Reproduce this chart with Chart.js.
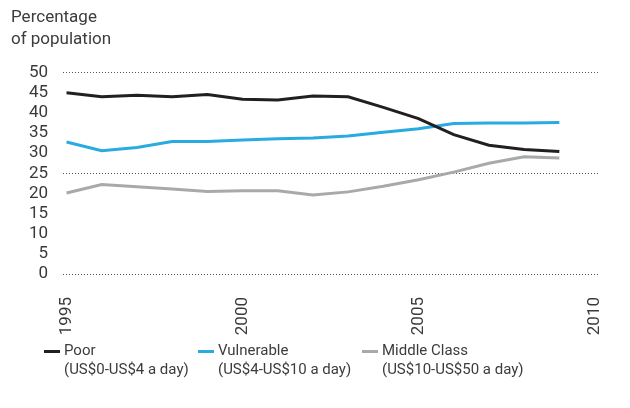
<!DOCTYPE html>
<html lang="en">
<head>
	<meta charset="utf-8">
	<script src="https://cdn.jsdelivr.net/npm/chart.js@4/dist/chart.umd.min.js"></script>
	<title>Percentage of population</title>
<style>
body { margin: 0; background: #fff; font-family: Roboto, "DejaVu Sans", sans-serif; }
#wrap { position: relative; width: 630px; height: 408px; }
#title { position: absolute; left: 11px; top: 5px; font-size: 17px; line-height: 22px; color: #3c3c3c; }
#legend { position: absolute; left: 0; top: 341px; width: 630px; }
.item { position: absolute; top: 0; font-size: 15px; line-height: 19px; color: #3c3c3c; white-space: nowrap; }
.item .mark { position: absolute; left: 0; top: 9px; width: 16px; height: 3px; }
.item .txt { position: absolute; left: 20px; top: 0; }
</style>
</head>
<body>
<div id="wrap">
	<canvas id="myChart" width="630" height="408"></canvas>
	<div id="title">Percentage<br>of population</div>
	<div id="legend"></div>
</div>
<script>
const years = [1995, 1996, 1997, 1998, 1999, 2000, 2001, 2002, 2003, 2004, 2005, 2006, 2007, 2008, 2009];
const poor = [45.0, 44.0, 44.4, 44.0, 44.6, 43.4, 43.2, 44.2, 44.0, 41.4, 38.6, 34.6, 32.0, 30.9, 30.4];
const vulnerable = [32.8, 30.6, 31.4, 32.9, 32.9, 33.3, 33.6, 33.8, 34.3, 35.2, 36.1, 37.4, 37.5, 37.5, 37.6];
const middleClass = [20.1, 22.2, 21.7, 21.1, 20.5, 20.7, 20.7, 19.6, 20.4, 21.8, 23.4, 25.3, 27.5, 29.1, 28.8];
const xTicks = [1995, 2000, 2005, 2010];
const seriesNames = ['Poor', 'Vulnerable', 'Middle Class'];
const seriesRanges = ['(US$0-US$4 a day)', '(US$4-US$10 a day)', '(US$10-US$50 a day)'];
const seriesColors = ['#231f20', '#29abe2', '#a7a9ac'];

function pts(vals) {
	return vals.map((v, i) => ({ x: years[i], y: v }));
}

const ctx = document.getElementById('myChart');
const chart = new Chart(ctx, {
	type: 'line',
	data: {
		datasets: [poor, vulnerable, middleClass].map((vals, i) => ({
			label: seriesNames[i],
			data: pts(vals),
			borderColor: seriesColors[i],
			borderWidth: 3,
			pointRadius: 0,
			tension: 0,
			fill: false
		}))
	},
	options: {
		responsive: false,
		animation: false,
		layout: { padding: { top: 72.7, right: 10, left: 0, bottom: 0 } },
		plugins: { legend: { display: false }, tooltip: { enabled: false } },
		scales: {
			x: {
				type: 'linear',
				min: 1994.9,
				max: 2010.1,
				afterBuildTicks: s => { s.ticks = xTicks.map(v => ({ value: v })); },
				afterFit: s => { s.height = 134; },
				grid: { display: false },
				border: { display: false },
				ticks: {
					minRotation: 90,
					maxRotation: 90,
					autoSkip: false,
					padding: 15,
					color: '#3a3a3a',
					font: { family: 'Roboto', size: 17 },
					callback: v => String(v)
				}
			},
			y: {
				min: 0,
				max: 50,
				afterFit: s => { s.width = 63; },
				grid: {
					drawTicks: false,
					lineWidth: 1,
					color: c => (c.tick && c.tick.value % 25 === 0) ? '#555' : 'rgba(0,0,0,0)'
				},
				border: { display: false, dash: [1, 2] },
				ticks: {
					stepSize: 5,
					autoSkip: false,
					padding: 15,
					color: '#3a3a3a',
					font: { family: 'Roboto', size: 17, lineHeight: 1 }
				}
			}
		}
	}
});

// legend with two-line labels
const legendLeft = [44, 198, 362];
const legend = document.getElementById('legend');
chart.data.datasets.forEach((ds, i) => {
	const el = document.createElement('div');
	el.className = 'item';
	el.style.left = legendLeft[i] + 'px';
	el.innerHTML = '<span class="mark" style="background:' + ds.borderColor + '"></span>' +
		'<span class="txt">' + ds.label + '<br>' + seriesRanges[i] + '</span>';
	legend.appendChild(el);
});
</script>
</body>
</html>
